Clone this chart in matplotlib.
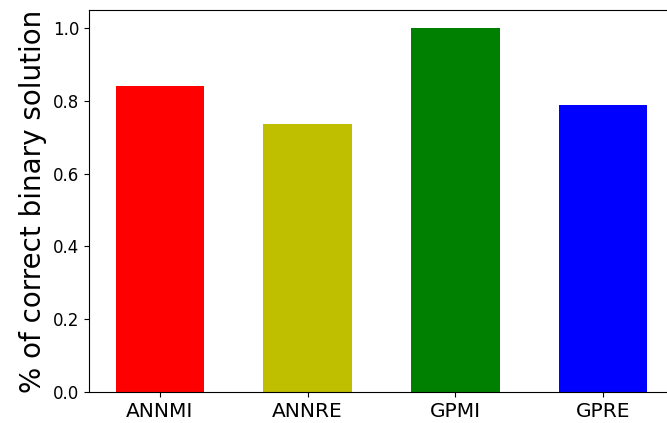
import matplotlib
matplotlib.use("Agg")
import matplotlib.pyplot as plt

methods = ["ANNMI", "ANNRE", "GPMI", "GPRE"]
correct_fraction = [0.84, 0.737, 1.0, 0.79]
bar_colors = ["r", "y", "g", "b"]

fig = plt.figure(figsize=(6.67, 4.23), dpi=100)
# axes run slightly past the right edge of the canvas
ax = fig.add_axes([0.1334, 0.0733, 0.877, 0.9031])
ax.bar(methods, correct_fraction, width=0.6, color=bar_colors)
ax.set_ylabel("% of correct binary solution", fontsize=20)
ax.tick_params(axis="y", labelsize=12)
ax.tick_params(axis="x", labelsize=14.5)
fig.savefig("out.png", dpi=100)
